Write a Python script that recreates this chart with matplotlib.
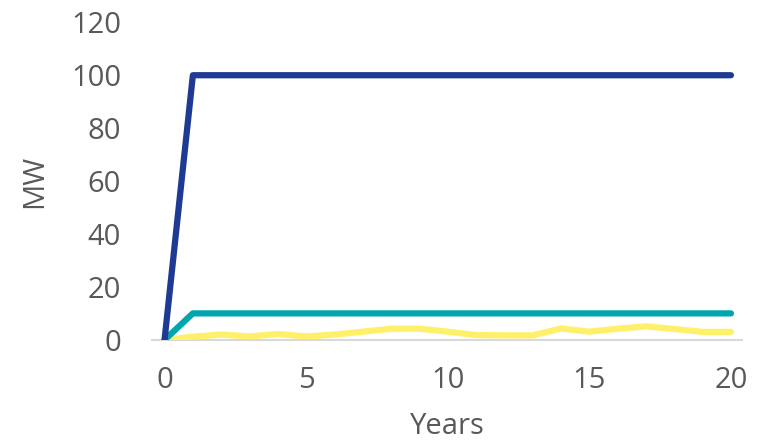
import numpy as np
import matplotlib.pyplot as plt

# datos
years = list(range(0, 21))
blue_mw = [0] + [100] * 20
teal_mw = [0] + [10] * 20
yellow_mw = [0, 1.2, 2.0, 1.3, 2.2, 1.3, 2.0, 3.1, 4.2, 4.2, 3.1,
             1.8, 1.7, 1.7, 4.3, 3.1, 4.2, 5.1, 4.1, 3.0, 3.0]

y_ticks = [0, 20, 40, 60, 80, 100, 120]
x_ticks = [0, 5, 10, 15, 20]

plt.rcParams['font.family'] = ['Open Sans', 'DejaVu Sans']
gray = '#595959'

fig = plt.figure(figsize=(7.59, 4.46), dpi=100)
ax = fig.add_axes([0.2, 0.238, 0.778, 0.712])

ax.plot(years, blue_mw, color='#1F3A93', linewidth=4.5, solid_capstyle='round', solid_joinstyle='round', zorder=3)
ax.plot(years, teal_mw, color='#00A6AD', linewidth=4.5, solid_capstyle='round', solid_joinstyle='round', zorder=2)
ax.plot(years, yellow_mw, color='#FFF06A', linewidth=4.5, solid_capstyle='round', solid_joinstyle='round', zorder=1)

ax.set_xlim(-0.45, 20.4)
ax.set_ylim(0, 120)
ax.set_yticks(y_ticks)
ax.set_xticks(x_ticks)

for s in ['top', 'right', 'left']:
    ax.spines[s].set_visible(False)
ax.spines['bottom'].set_color('#D9D9D9')
ax.spines['bottom'].set_linewidth(1.5)
ax.spines['bottom'].set_zorder(0)

ax.tick_params(axis='both', length=0, labelsize=21, colors=gray)
ax.tick_params(axis='y', pad=22)
ax.tick_params(axis='x', pad=19)

ax.set_xlabel('Years', fontsize=21, color=gray, labelpad=12)
ax.set_ylabel('MW', fontsize=21, color=gray, labelpad=16)

plt.savefig('out.png', dpi=100)
